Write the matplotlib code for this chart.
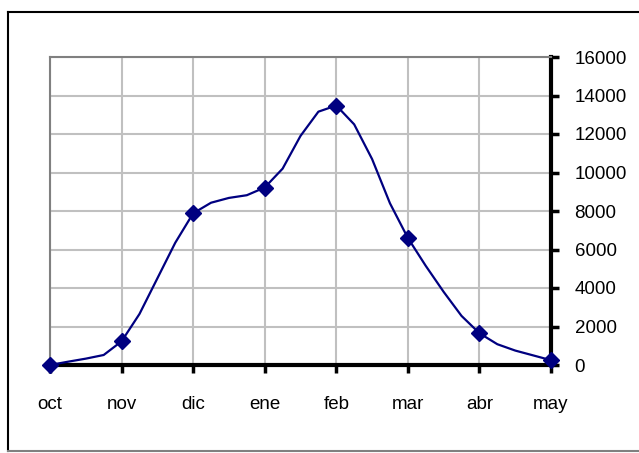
import matplotlib
matplotlib.use("Agg")
import matplotlib.pyplot as plt
from matplotlib.lines import Line2D
import numpy as np

months = ["oct", "nov", "dic", "ene", "feb", "mar", "abr", "may"]
# values read at quarter-month steps (markers on each month)
values = [0, 170, 330, 520,
          1230, 2650, 4500, 6350,
          7880, 8430, 8680, 8820,
          9220, 10200, 11900, 13160,
          13480, 12500, 10700, 8400,
          6600, 5150, 3800, 2550,
          1650, 1080, 750, 500,
          250]
steps_per_month = 4
yticks = [0, 2000, 4000, 6000, 8000, 10000, 12000, 14000, 16000]

plt.rcParams['font.family'] = ['Liberation Sans', 'DejaVu Sans']

W, H = 639, 453
fig = plt.figure(figsize=(W / 100, H / 100), dpi=100)

# outer border
fig.add_artist(Line2D([8 / W, 8 / W], [1 - 451 / H, 1 - 12 / H], color='black', lw=1.5, transform=fig.transFigure))
fig.add_artist(Line2D([8 / W, 1.0], [1 - 12 / H, 1 - 12 / H], color='black', lw=1.5, transform=fig.transFigure))
fig.add_artist(Line2D([8 / W, 1.0], [1 - 451 / H, 1 - 451 / H], color='#808080', lw=1.5, transform=fig.transFigure))

left, right, top, bottom = 50, 551, 57, 365
ax = fig.add_axes([left / W, 1 - bottom / H, (right - left) / W, (bottom - top) / H])

x = np.arange(len(values)) / steps_per_month
ax.set_xlim(0, len(months) - 1)
ax.set_ylim(0, 16000)

ax.set_xticks(range(len(months)))
ax.set_xticklabels(months)
ax.set_yticks(yticks)
ax.set_yticklabels([str(v) for v in yticks])

ax.grid(True, color='#c0c0c0', lw=1.5, zorder=0)
ax.set_axisbelow(True)

ax.yaxis.tick_right()
ax.tick_params(axis='y', direction='out', length=6, width=2.5, color='black', pad=11, labelsize=13.5)
ax.tick_params(axis='x', direction='out', length=6, width=2.5, color='black', pad=16, labelsize=13.5)

for s in ['left', 'top']:
    ax.spines[s].set_color('#808080')
    ax.spines[s].set_linewidth(1.5)
for s in ['right', 'bottom']:
    ax.spines[s].set_color('black')
    ax.spines[s].set_linewidth(3)

ax.plot(x, values, color='#000080', lw=1.6, zorder=3, clip_on=False)
mx = x[::steps_per_month]
my = values[::steps_per_month]
ax.plot(mx, my, linestyle='none', marker='D', markersize=8, color='#000080', zorder=4, clip_on=False)

fig.savefig('out.png', dpi=100)
